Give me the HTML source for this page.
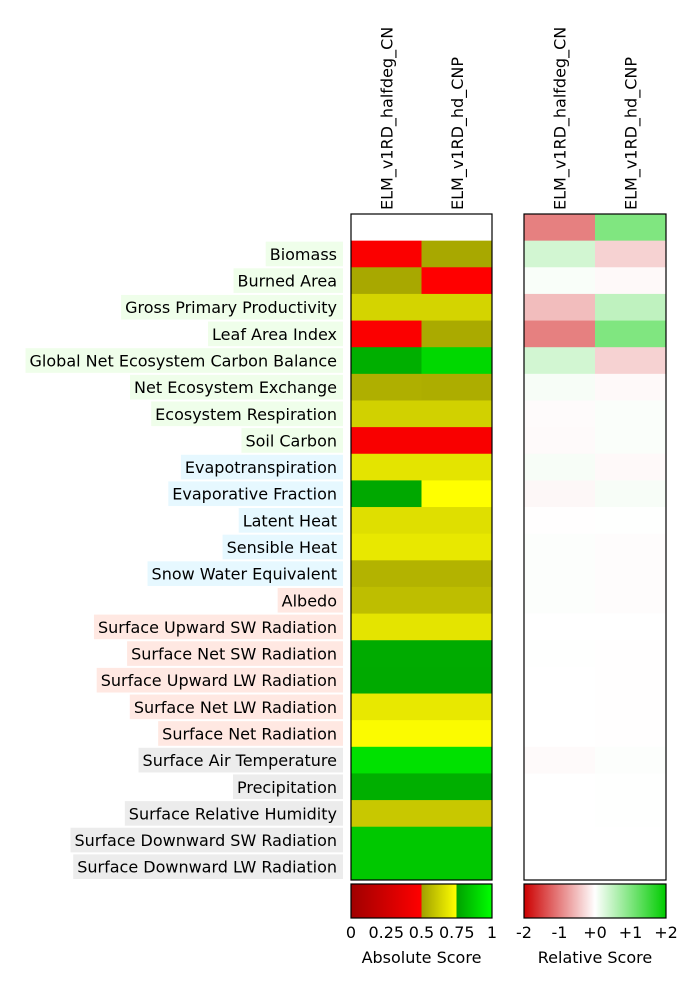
<!DOCTYPE html>
<html><head><meta charset="utf-8"><style>
html,body{margin:0;padding:0;background:#fff;}
svg text{font-family:"DejaVu Sans","Liberation Sans",sans-serif;}
</style></head><body>
<svg id="chart" width="696" height="985" xmlns="http://www.w3.org/2000/svg">
<g id="labels"></g><g id="abs"></g><g id="rel"></g><g id="cbars"></g>
</svg>
<script>
const rowLabels=["Biomass","Burned Area","Gross Primary Productivity","Leaf Area Index","Global Net Ecosystem Carbon Balance","Net Ecosystem Exchange","Ecosystem Respiration","Soil Carbon","Evapotranspiration","Evaporative Fraction","Latent Heat","Sensible Heat","Snow Water Equivalent","Albedo","Surface Upward SW Radiation","Surface Net SW Radiation","Surface Upward LW Radiation","Surface Net LW Radiation","Surface Net Radiation","Surface Air Temperature","Precipitation","Surface Relative Humidity","Surface Downward SW Radiation","Surface Downward LW Radiation"];
const rowGroups=["eco","eco","eco","eco","eco","eco","eco","eco","hyd","hyd","hyd","hyd","hyd","rad","rad","rad","rad","rad","rad","frc","frc","frc","frc","frc"];
const models=["ELM_v1RD_halfdeg_CN","ELM_v1RD_hd_CNP"];
const absCN=[null,0.48,0.52,0.637,0.48,0.79,0.54,0.63,0.47,0.68,0.77,0.665,0.69,0.55,0.58,0.68,0.78,0.775,0.69,0.74,0.92,0.79,0.605,0.855,0.855];
const absCNP=[null,0.52,0.499,0.637,0.525,0.897,0.535,0.63,0.47,0.68,0.749,0.665,0.69,0.55,0.58,0.68,0.78,0.775,0.69,0.74,0.92,0.79,0.605,0.855,0.855];
const relCN=[-1.0,0.35,0.05,-0.52,-1.0,0.35,0.06,-0.03,-0.04,0.06,-0.06,-0.01,0.02,0.02,0.02,0.0,0.01,0.0,0.0,0.0,-0.04,0.0,0.0,0.0,0.0];
const relCNP=[1.0,-0.35,-0.05,0.5,1.0,-0.35,-0.05,0.04,0.04,-0.05,0.06,0.01,-0.02,-0.02,-0.02,0.0,-0.01,-0.01,-0.01,-0.01,0.02,0.01,0.01,0.0,0.0];
const absTicks=["0","0.25","0.5","0.75","1"];
const relTicks=["-2","-1","+0","+1","+2"];

const NS="http://www.w3.org/2000/svg";
function mk(tag,attrs,parent,txt){const e=document.createElementNS(NS,tag);for(const k in attrs)e.setAttribute(k,attrs[k]);if(txt!==undefined)e.textContent=txt;parent.appendChild(e);return e;}
const yTop=214,yBot=880,nRows=25,rh=(yBot-yTop)/nRows;
const yRow=i=>yTop+i*rh;
const absX0=351,absX1=492,relX0=524,relX1=666;
function absColor(v){
  if(v===null)return "#ffffff";
  let r=0,g=0;
  if(v<0.5){r=160+95*(v/0.5);}
  else if(v<0.75){const t=(v-0.5)/0.25;r=g=160+95*t;}
  else{const t=(v-0.75)/0.25;g=160+95*t;}
  return `rgb(${Math.round(r)},${Math.round(g)},0)`;
}
function relColor(v){
  const t=Math.min(1,Math.abs(v)/2);
  const a=Math.round(255-51*t),b=Math.round(255-255*t);
  return v<0?`rgb(${a},${b},${b})`:`rgb(${b},${a},${b})`;
}
const grpCol={eco:"#effeea",hyd:"#e6f8ff",rad:"#ffe8e2",frc:"#ececec"};
const L=document.getElementById('labels');
const ctx2=document.createElement('canvas').getContext('2d');ctx2.font='16px "DejaVu Sans"';
rowLabels.forEach((s,i)=>{
  const y=yRow(i+1);
  const w=ctx2.measureText(s).width;
  const bg=mk('rect',{x:343-w-10,y:y+1,width:w+10,height:rh-2,fill:grpCol[rowGroups[i]]},L);
  
  
  const t=mk('text',{x:337,y:y+rh/2+6,'text-anchor':'end','font-size':16,fill:'#000'},L,s);
  
  
});
function heat(g,x0,x1,cols,colorFn,name){
  const cw=(x1-x0)/cols.length;
  cols.forEach((arr,c)=>{
    arr.forEach((v,i)=>{
      const r=mk('rect',{x:x0+c*cw,y:yRow(i),width:cw+0.5,height:rh+0.5,fill:colorFn(v)},g);
      
      
    });
    const tx=x0+c*cw+cw/2+6;
    const t=mk('text',{x:tx,y:210,transform:`rotate(-90 ${tx} 210)`,'font-size':16},g,models[c]);
    
    
  });
  const f=mk('rect',{x:x0,y:yTop,width:x1-x0,height:yBot-yTop,fill:'none',stroke:'#000','stroke-width':1.2},g);
  
  
}
heat(document.getElementById('abs'),absX0,absX1,[absCN,absCNP],absColor,'absolute-heatmap');
heat(document.getElementById('rel'),relX0,relX1,[relCN,relCNP],relColor,'relative-heatmap');
const C=document.getElementById('cbars');
const defs=mk('defs',{},C);
function grad(id,stops){const g=mk('linearGradient',{id:id,x1:0,x2:1,y1:0,y2:0},defs);stops.forEach(s=>mk('stop',{offset:s[0],'stop-color':s[1]},g));}
grad('ga',[[0,'#a00000'],[0.499,'#ff0000'],[0.5,'#a0a000'],[0.749,'#ffff00'],[0.75,'#00a000'],[1,'#00ff00']]);
grad('gr',[[0,'#cc0000'],[0.5,'#ffffff'],[1,'#00cc00']]);
const cy0=884,cy1=918;
function cbar(x0,x1,fill,ticks,title,name){
  const r=mk('rect',{x:x0,y:cy0,width:x1-x0,height:cy1-cy0,fill:fill,stroke:'#000','stroke-width':1.2},C);
  
  
  ticks.forEach((s,i)=>{
    const x=x0+(x1-x0)*i/(ticks.length-1);
    const t=mk('text',{x:x,y:938,'text-anchor':'middle','font-size':16},C,s);
    
    
  });
  const t=mk('text',{x:(x0+x1)/2,y:963,'text-anchor':'middle','font-size':16},C,title);
  
  
}
cbar(absX0,absX1,'url(#ga)',absTicks,'Absolute Score','absolute-colorbar');
cbar(relX0,relX1,'url(#gr)',relTicks,'Relative Score','relative-colorbar');
</script>
</body></html>
